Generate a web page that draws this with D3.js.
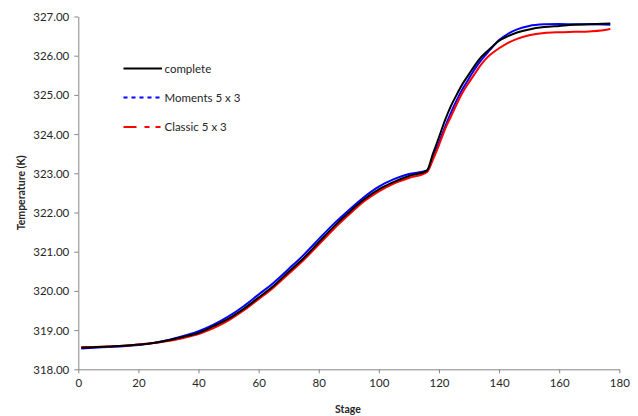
<!DOCTYPE html>
<html>
<head>
<meta charset="utf-8">
<script src="https://cdn.jsdelivr.net/npm/d3@7/dist/d3.min.js"></script>
<style>
  html, body { margin: 0; padding: 0; background: #fff; }
  svg { display: block; font-family: Lato, "Open Sans", sans-serif; }
</style>
</head>
<body>
<svg id="chart" width="638" height="416"></svg>
<script>
// ---- Data ----
const seriesNames = ["complete", "Moments 5 x 3", "Classic 5 x 3"];

const completeStages = [1, 5, 10, 15, 20, 25, 30, 35, 40, 45, 50, 55, 60, 65, 70, 75, 80, 85, 90, 95, 100, 105, 110, 116,
  118, 120, 122, 124, 126, 128, 130, 132, 134, 136, 138, 140, 143, 146, 150, 155, 160, 165, 170, 177];
const completeValues = [318.55, 318.56, 318.58, 318.60, 318.63, 318.67, 318.74, 318.83, 318.93, 319.10, 319.29, 319.54, 319.83, 320.13, 320.49, 320.84, 321.24, 321.64, 322.00, 322.33, 322.59, 322.78, 322.93, 323.07,
  323.50, 323.92, 324.35, 324.72, 325.02, 325.30, 325.53, 325.76, 325.96, 326.11, 326.25, 326.38, 326.50, 326.59, 326.67, 326.73, 326.76, 326.79, 326.80, 326.82];

const momentsStages = [1, 5, 10, 15, 20, 25, 30, 35, 40, 45, 50, 55, 60, 65, 70, 75, 80, 85, 90, 95, 100, 105, 110, 116,
  118, 120, 122, 124, 126, 128, 130, 132, 134, 136, 138, 140, 143, 146, 150, 155, 160, 165, 170, 177];
const momentsValues = [318.53, 318.55, 318.57, 318.59, 318.62, 318.67, 318.75, 318.85, 318.97, 319.14, 319.35, 319.61, 319.91, 320.21, 320.56, 320.92, 321.32, 321.71, 322.06, 322.39, 322.66, 322.85, 322.98, 323.07,
  323.40, 323.78, 324.18, 324.55, 324.88, 325.17, 325.42, 325.67, 325.88, 326.06, 326.24, 326.40, 326.56, 326.67, 326.76, 326.80, 326.81, 326.80, 326.80, 326.79];

const classicStages = [1, 5, 10, 15, 20, 25, 30, 35, 40, 45, 50, 55, 60, 65, 70, 75, 80, 85, 90, 95, 100, 105, 110, 116,
  118, 120, 122, 124, 126, 128, 130, 132, 134, 136, 138, 140, 143, 146, 150, 155, 160, 165, 170, 174, 177];
const classicValues = [318.57, 318.57, 318.58, 318.60, 318.63, 318.67, 318.72, 318.80, 318.90, 319.05, 319.25, 319.50, 319.79, 320.09, 320.44, 320.79, 321.18, 321.58, 321.94, 322.28, 322.54, 322.74, 322.88, 323.03,
  323.35, 323.72, 324.12, 324.45, 324.78, 325.08, 325.32, 325.55, 325.77, 325.95, 326.08, 326.19, 326.33, 326.43, 326.52, 326.58, 326.60, 326.61, 326.62, 326.64, 326.68];

const xTicks = [0, 20, 40, 60, 80, 100, 120, 140, 160, 180];
const yTicks = [318, 319, 320, 321, 322, 323, 324, 325, 326, 327];

const xTitle = "Stage";
const yTitle = "Temperature (K)";

// ---- Chart ----
const svg = d3.select("#chart");
const plot = { left: 78.3, right: 619.3, top: 16.5, bottom: 369.3 };

const x = d3.scaleLinear().domain([0, 180]).range([plot.left, plot.right]);
const y = d3.scaleLinear().domain([318, 327]).range([plot.bottom, plot.top]);

const axisColor = "#868686";
const textColor = "#262626";

// Y axis
const yAxis = svg.append("g")
  .attr("transform", `translate(${plot.left},0)`)
  .call(d3.axisLeft(y).tickValues(yTicks).tickSize(4).tickSizeOuter(0).tickFormat(d3.format(".2f")));
yAxis.select(".domain").attr("stroke", axisColor).attr("stroke-width", 1);
yAxis.selectAll(".tick line").attr("stroke", axisColor);
yAxis.selectAll(".tick text").attr("fill", textColor).attr("font-size", "11.5px")
  .attr("font-family", "Lato, sans-serif").attr("x", -9).attr("dy", "0.34em");

// X axis
const xAxis = svg.append("g")
  .attr("transform", `translate(0,${plot.bottom})`)
  .call(d3.axisBottom(x).tickValues(xTicks).tickSize(4).tickSizeOuter(0));
xAxis.select(".domain").attr("stroke", axisColor).attr("stroke-width", 1);
xAxis.selectAll(".tick line").attr("stroke", axisColor);
xAxis.selectAll(".tick text").attr("fill", textColor).attr("font-size", "11.5px")
  .attr("font-family", "Lato, sans-serif").attr("y", 10);

// Titles
svg.append("text")
  .attr("x", 348).attr("y", 413)
  .attr("text-anchor", "middle")
  .attr("font-weight", "bold").attr("font-size", "10.5px").attr("fill", textColor)
  .text(xTitle);

svg.append("text")
  .attr("transform", `translate(25,${(plot.top + plot.bottom) / 2}) rotate(-90)`)
  .attr("text-anchor", "middle")
  .attr("font-weight", "bold").attr("font-size", "10.5px").attr("fill", textColor)
  .text(yTitle);

// Lines
const line = d3.line()
  .x(d => x(d[0]))
  .y(d => y(d[1]))
  .curve(d3.curveMonotoneX);

const seriesData = [
  { name: seriesNames[1], pts: d3.zip(momentsStages, momentsValues), color: "#0000ff", dash: null },
  { name: seriesNames[2], pts: d3.zip(classicStages, classicValues), color: "#ff0000", dash: null },
  { name: seriesNames[0], pts: d3.zip(completeStages, completeValues), color: "#000000", dash: null }
];

svg.append("g").selectAll("path")
  .data(seriesData)
  .join("path")
  .attr("d", d => line(d.pts))
  .attr("fill", "none")
  .attr("stroke", d => d.color)
  .attr("stroke-width", 2)
  .attr("stroke-linejoin", "round");

// Legend
const legendItems = [
  { name: seriesNames[0], color: "#000000", dash: null, y: 68.5 },
  { name: seriesNames[1], color: "#0000ff", dash: "4,4", y: 97.5 },
  { name: seriesNames[2], color: "#ff0000", dash: "13,8,5,6,5,100", y: 127 }
];
const lg = svg.append("g");
legendItems.forEach(it => {
  lg.append("line")
    .attr("x1", 123.5).attr("x2", 162)
    .attr("y1", it.y).attr("y2", it.y)
    .attr("stroke", it.color).attr("stroke-width", 2.2)
    .attr("stroke-dasharray", it.dash);
  lg.append("text")
    .attr("x", 164.5).attr("y", it.y)
    .attr("dy", "0.35em")
    .attr("font-size", "11.5px").attr("fill", textColor)
    .text(it.name);
});
</script>
</body>
</html>
